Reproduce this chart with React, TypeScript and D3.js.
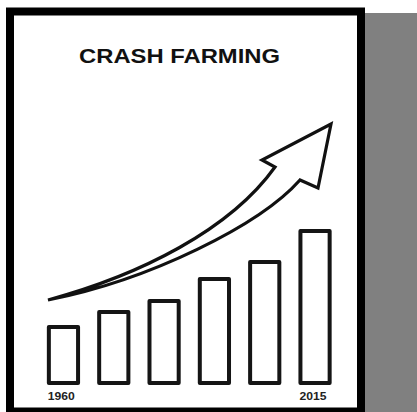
import React from "react";
import * as d3 from "d3";

const years = ["1960", "1971", "1982", "1993", "2004", "2015"];
const values = [56, 71, 82, 104, 121, 152];
const shownLabels = ["1960", "2015"];
const title = "CRASH FARMING";

const W = 417;
const H = 412;

export default function App() {
  const x = d3
    .scaleBand<string>()
    .domain(years)
    .range([38.3, 340.2])
    .paddingInner(0.34)
    .paddingOuter(0.17);
  const y = d3.scaleLinear().domain([0, 160]).range([381, 221]);

  // arrow outline (hand-drawn growth arrow)
  const arrow = d3.path();
  arrow.moveTo(48, 300);
  arrow.bezierCurveTo(140, 275, 230, 230, 275, 167);
  arrow.lineTo(262, 160);
  arrow.lineTo(331, 124);
  arrow.lineTo(318, 188);
  arrow.lineTo(300, 180);
  arrow.bezierCurveTo(260, 225, 150, 280, 48, 300);
  arrow.closePath();

  return (
    <svg
      width={W}
      height={H}
      style={{ position: "absolute", left: 0, top: 0, background: "#fff" }}
    >
      <rect x={0} y={0} width={W} height={H} fill="#fff" />
      <rect x={365} y={13} width={52} height={H - 13} fill="#808080" />
      <rect x={10} y={11.5} width={351} height={400} fill="#fff" stroke="#000" strokeWidth={8} />
      <text
        x={79}
        y={63}
        fontFamily="Liberation Sans, Arial, sans-serif"
        fontWeight="bold"
        fontSize={20.5}
        textLength={201}
        lengthAdjust="spacingAndGlyphs"
        fill="#111"
      >
        {title}
      </text>
      <path
        d={arrow.toString()}
        fill="#fff"
        stroke="#111"
        strokeWidth={3.2}
        strokeLinejoin="miter"
      />
      {years.map((yr, i) => (
        <rect
          key={yr}
          x={(x(yr) as number) + 2}
          y={y(values[i]) + 2}
          width={x.bandwidth() - 4}
          height={y(0) - y(values[i])}
          fill="#fff"
          stroke="#151515"
          strokeWidth={4}
          strokeLinejoin="round"
        />
      ))}
      {shownLabels.map((yr) => (
        <text
          key={yr}
          x={(x(yr) as number) + 1}
          y={399.5}
          fontFamily="Liberation Sans, Arial, sans-serif"
          fontWeight="bold"
          fontSize={10.5}
          textLength={27}
          lengthAdjust="spacingAndGlyphs"
          fill="#222"
        >
          {yr}
        </text>
      ))}
    </svg>
  );
}
